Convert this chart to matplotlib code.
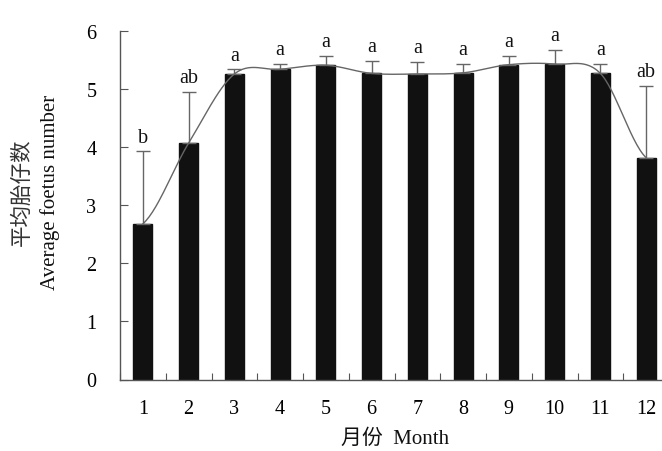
import numpy as np
import matplotlib
matplotlib.use("Agg")
import matplotlib.pyplot as plt

months = ["1", "2", "3", "4", "5", "6", "7", "8", "9", "10", "11", "12"]
means = [2.68, 4.07, 5.26, 5.34, 5.41, 5.27, 5.26, 5.28, 5.42, 5.43, 5.27, 3.82]
err_up = [1.25, 0.88, 0.08, 0.09, 0.16, 0.22, 0.21, 0.16, 0.15, 0.25, 0.16, 1.24]
letters = ["b", "ab", "a", "a", "a", "a", "a", "a", "a", "a", "a", "ab"]
yticks = [0, 1, 2, 3, 4, 5, 6]

serif = ["Liberation Serif", "Noto Sans CJK SC", "DejaVu Sans"]
cjk = ["Noto Sans CJK SC", "Liberation Serif"]
plt.rcParams["font.family"] = serif

FS = 14.5

fig = plt.figure(figsize=(6.62, 4.52), dpi=100)
fig.patch.set_facecolor("white")
ax = fig.add_axes([120 / 662, (452 - 380.5) / 452, 549 / 662, (380.5 - 32) / 452])

x = np.arange(1, len(months) + 1)
spine_c = "#555555"
ax.bar(x, means, width=0.41, color="#111111", edgecolor="#111111", zorder=2)
ax.errorbar(x, means, yerr=[np.zeros(len(means)), err_up], fmt="none",
            ecolor="#666666", elinewidth=1.0, capsize=5, capthick=1.0, zorder=3)


def catmull_rom(xs, ys, n=30):
    xs = np.asarray(xs, float)
    ys = np.asarray(ys, float)
    px = np.concatenate([[2 * xs[0] - xs[1]], xs, [2 * xs[-1] - xs[-2]]])
    py = np.concatenate([[ys[0]], ys, [ys[-1]]])
    outx, outy = [], []
    t = np.linspace(0, 1, n)
    for i in range(1, len(px) - 2):
        p0, p1, p2, p3 = px[i - 1], px[i], px[i + 1], px[i + 2]
        q0, q1, q2, q3 = py[i - 1], py[i], py[i + 1], py[i + 2]
        cx = 0.5 * (2 * p1 + (-p0 + p2) * t + (2 * p0 - 5 * p1 + 4 * p2 - p3) * t**2 + (-p0 + 3 * p1 - 3 * p2 + p3) * t**3)
        cy = 0.5 * (2 * q1 + (-q0 + q2) * t + (2 * q0 - 5 * q1 + 4 * q2 - q3) * t**2 + (-q0 + 3 * q1 - 3 * q2 + q3) * t**3)
        outx.extend(cx)
        outy.extend(cy)
    return np.array(outx), np.array(outy)


sx, sy = catmull_rom(x, means)
ax.plot(sx, sy, color="#666666", lw=1.0, zorder=4)

for xi, m, e, lab in zip(x, means, err_up, letters):
    ax.text(xi, m + e + 0.08, lab, ha="center", va="bottom", fontsize=FS,
            family=serif, color="#111111")

ax.set_xlim(0.5, 12.5)
ax.set_ylim(0, 6)
ax.set_yticks(yticks)
ax.set_yticklabels([str(v) for v in yticks])
ax.set_xticks(x)
ax.set_xticklabels(months)
ax.set_xticks(np.arange(0.5, 12.6, 1.0), minor=True)
ax.tick_params(axis="x", which="major", length=0, pad=14, labelsize=FS)
ax.tick_params(axis="x", which="minor", direction="in", length=5, color=spine_c, width=0.8)
ax.tick_params(axis="y", direction="in", length=6, pad=17, labelsize=FS, color=spine_c, width=0.8)

for s in ["top", "right"]:
    ax.spines[s].set_visible(False)
for s in ["left", "bottom"]:
    ax.spines[s].set_color(spine_c)
    ax.spines[s].set_linewidth(1.0)

fig.text(22 / 662, 1 - 192 / 452, "平均胎仔数", rotation=90, ha="center", va="center",
         fontsize=15.5, family=cjk, color="#333333")
fig.text(50 / 662, 1 - 192 / 452, "Average foetus number", rotation=90, ha="center",
         va="center", fontsize=15, family=serif, color="#111111")
fig.text(395 / 662, 1 - 439 / 452, "月份  Month", ha="center", va="center",
         fontsize=15, family=serif, color="#111111")

fig.savefig("out.png", dpi=100, facecolor="white")
